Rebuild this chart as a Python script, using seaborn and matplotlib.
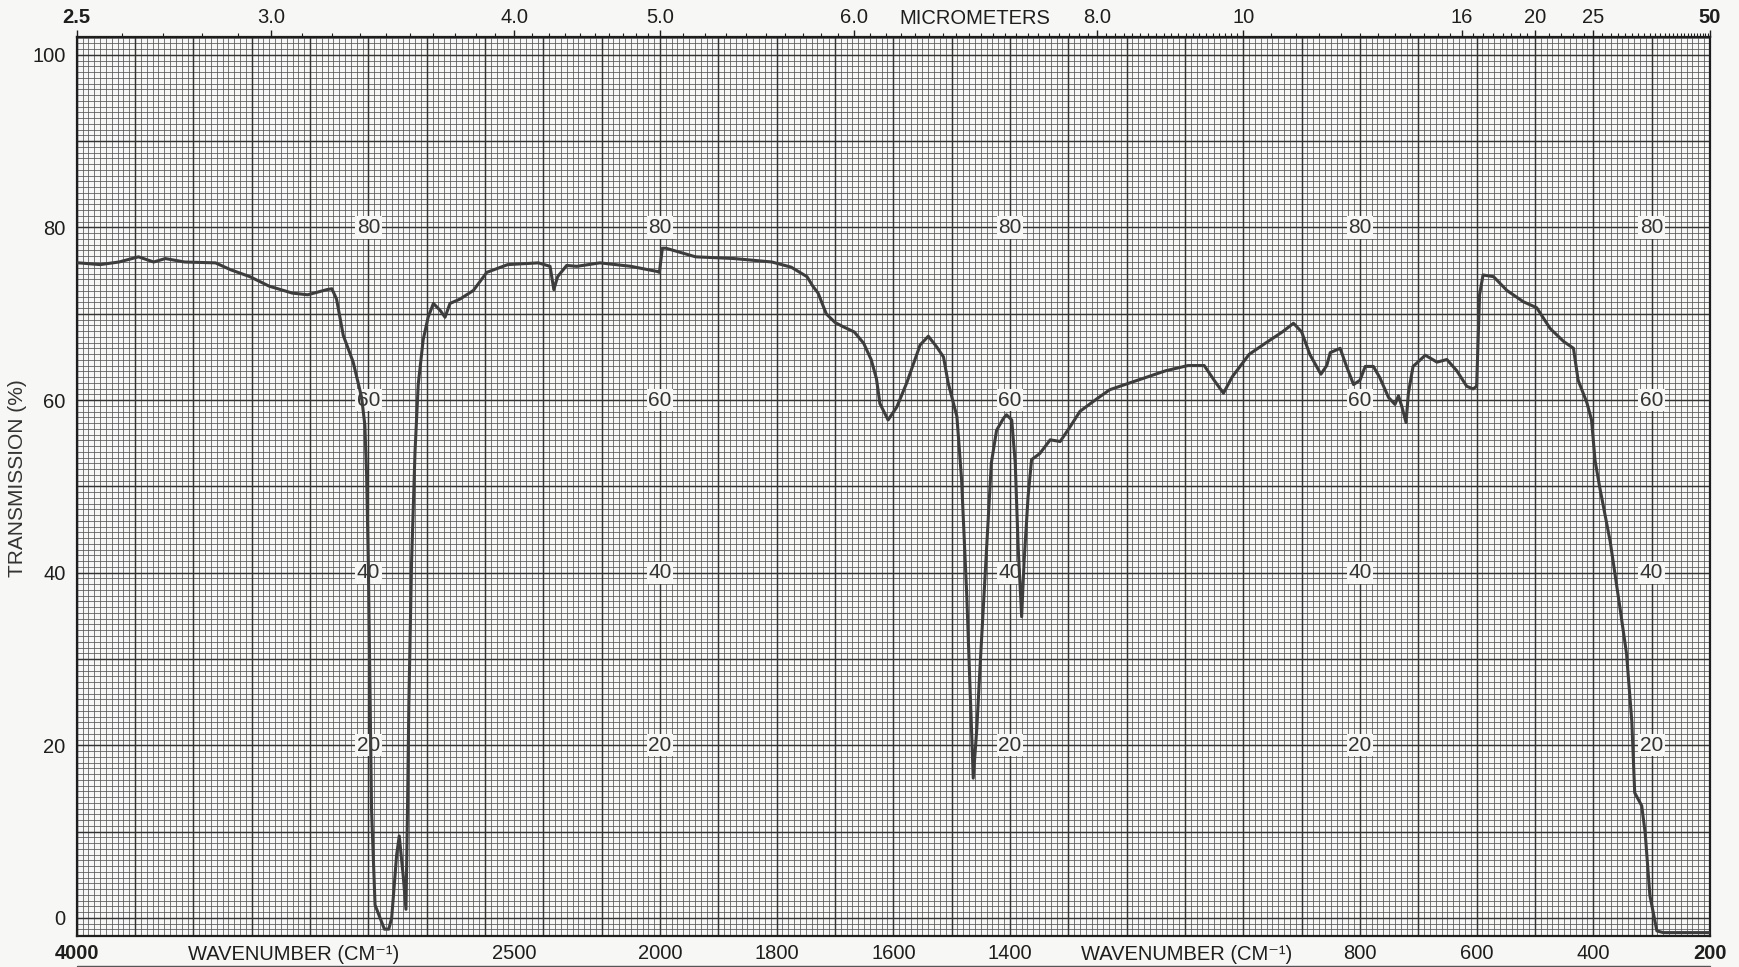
import numpy as np
import pandas as pd
import matplotlib
matplotlib.use("Agg")
import matplotlib.pyplot as plt
import matplotlib.transforms as mtransforms
import seaborn as sns

# ---- spectrum (wavenumber in cm-1, transmission in %) ----
wavenumber = [
    4000, 3993, 3920, 3855, 3788, 3736, 3696, 3630, 3524, 3472, 3406, 3340,
    3261, 3208, 3142, 3125, 3109, 3086, 3052, 3023, 3012, 3006, 3000, 2994,
    2989, 2977, 2960, 2945, 2930, 2920, 2903, 2894, 2880, 2871, 2866, 2861,
    2852, 2840, 2829, 2812, 2795, 2777, 2754, 2737, 2720, 2686, 2640, 2594,
    2522, 2417, 2377, 2364, 2351, 2320, 2285, 2206, 2100, 2009, 2002, 1996,
    1990, 1939, 1873, 1808, 1775, 1748, 1738, 1729, 1715, 1700, 1686, 1667,
    1651, 1638, 1629, 1623, 1609, 1594, 1577, 1563, 1554, 1540, 1526, 1514,
    1506, 1491, 1483, 1474, 1466, 1463, 1457, 1451, 1443, 1432, 1423, 1411,
    1406, 1397, 1391, 1386, 1380, 1376, 1369, 1363, 1349, 1331, 1314, 1297,
    1280, 1250, 1229, 1190, 1133, 1095, 1067, 1048, 1034, 1019, 990, 962,
    933, 914, 900, 886, 867, 857, 851, 834, 823, 811, 800, 791, 777, 766,
    751, 740, 734, 728, 721, 717, 709, 688, 668, 651, 634, 617, 606, 600,
    595, 589, 571, 548, 520, 497, 474, 451, 434, 426, 411, 403, 397, 389,
    371, 354, 343, 334, 329, 317, 311, 303, 291, 280, 200,
]
transmission = [
    75.9, 75.9, 75.7, 76.0, 76.6, 76.0, 76.4, 76.0, 75.9, 75.1, 74.3, 73.2,
    72.4, 72.2, 72.8, 72.9, 71.7, 67.5, 64.4, 60.3, 57.1, 51.4, 41.0, 25.4,
    12.5, 1.5, 0.0, -1.3, -1.3, 0.0, 7.3, 9.5, 4.7, 1.0, 12.0, 25.0,
    41.0, 54.0, 61.8, 67.0, 69.6, 71.2, 70.4, 69.6, 71.2, 71.7, 72.7, 74.8,
    75.7, 75.9, 75.5, 72.8, 74.3, 75.6, 75.5, 75.9, 75.5, 74.9, 74.8, 77.6,
    77.6, 76.6, 76.4, 76.0, 75.4, 74.3, 73.2, 72.4, 70.0, 69.0, 68.5, 67.9,
    66.6, 64.7, 62.5, 59.6, 57.7, 59.2, 62.0, 64.7, 66.4, 67.4, 66.2, 65.0,
    62.0, 58.1, 50.8, 37.2, 21.8, 16.2, 21.8, 29.5, 39.2, 52.7, 56.5, 57.9,
    58.3, 57.7, 52.7, 43.0, 34.9, 41.1, 48.8, 53.1, 53.8, 55.4, 55.2, 56.9,
    58.7, 60.2, 61.2, 62.1, 63.4, 64.0, 64.0, 62.1, 60.8, 62.7, 65.3, 66.6,
    67.9, 68.9, 67.9, 65.3, 63.0, 64.0, 65.5, 66.0, 63.9, 61.8, 62.3, 63.9, 63.9, 62.6,
    60.3, 59.5, 60.5, 59.2, 57.4, 60.8, 63.9, 65.2, 64.4, 64.7, 63.4, 61.6, 61.3, 61.6,
    72.2, 74.5, 74.3, 72.7, 71.4, 70.7, 68.3, 66.8, 66.0, 62.3, 59.7, 57.7, 53.0, 49.9,
    43.6, 35.8, 30.6, 22.8, 14.5, 13.0, 9.8, 2.6, -1.5, -1.7, -1.7,
]

# ---- axis annotations ----
bottom_ticks = [4000, 2500, 2000, 1800, 1600, 1400, 800, 600, 400, 200]
top_ticks_um = [2.5, 3.0, 4.0, 5.0, 6.0, 8.0, 10, 16, 20, 25, 50]
top_tick_labels = ["2.5", "3.0", "4.0", "5.0", "6.0", "8.0", "10", "16", "20", "25", "50"]
y_ticks = [0, 20, 40, 60, 80, 100]
inner_label_x = [3000, 2000, 1400, 800, 300]
inner_label_y = [20, 40, 60, 80]
wavenumber_title_x = [3255, 1097]
micrometers_title_x = 1460

PAPER = "#f7f7f5"
INK = "#1e1e1e"
TRACE = "#3d3d3d"
LABEL_SIZE = 14.5


# Chart paper: 4000-2000 cm-1 at half the scale of 2000-200 cm-1
def fwd(w):
    w = np.asarray(w, dtype=float)
    return np.where(w > 2000, 2000 + (w - 2000) * 0.5, w)


def inv(u):
    u = np.asarray(u, dtype=float)
    return np.where(u > 2000, 2000 + (u - 2000) * 2.0, u)


sns.set_theme(style="white")
plt.rcParams["font.family"] = ["Liberation Sans", "DejaVu Sans"]

fig = plt.figure(figsize=(17.39, 9.67), dpi=100, facecolor=PAPER)
ax = fig.add_axes([0.0441, 0.032, 0.9392, 0.930])
ax.set_facecolor(PAPER)

df = pd.DataFrame({"wavenumber": wavenumber, "transmission": transmission})
sns.lineplot(data=df, x="wavenumber", y="transmission", ax=ax, sort=False,
             estimator=None, color=TRACE, linewidth=2.2, zorder=4)

ax.set_xscale("function", functions=(fwd, inv))
ax.set_xlim(4000, 200)
ax.set_ylim(-2.1, 102.1)

# ---- graph-paper grid ----
fine_x = np.concatenate([np.arange(4000, 2000, -20), np.arange(2000, 199, -10)])
heavy_x = np.concatenate([np.arange(4000, 2000, -200), np.arange(2000, 199, -100)])
fine_y = np.arange(-3, 154) * (2.0 / 3.0)
heavy_y = np.arange(0, 101, 10)
ax.vlines(fine_x, -2.1, 102.1, colors="#555555", linewidth=0.55, zorder=1)
ax.hlines(fine_y, 4000, 200, colors="#555555", linewidth=0.55, zorder=1)
ax.vlines(heavy_x, -2.1, 102.1, colors="#333333", linewidth=1.05, zorder=1.5)
ax.hlines(heavy_y, 4000, 200, colors="#333333", linewidth=1.05, zorder=1.5)

# in-field percentage labels
for xv in inner_label_x:
    for yv in inner_label_y:
        ax.text(xv, yv, str(yv), ha="center", va="center", fontsize=15,
                color="#333333", zorder=3,
                bbox=dict(facecolor=PAPER, edgecolor="none", pad=1.2))

# ---- bottom axis: wavenumber ----
ax.set_xticks(bottom_ticks)
ax.set_xticklabels([str(t) for t in bottom_ticks])
ax.xaxis.set_minor_locator(matplotlib.ticker.NullLocator())
ax.tick_params(axis="x", which="both", length=0, pad=6, labelsize=LABEL_SIZE,
               labelcolor=INK)
for lab in ax.get_xticklabels():
    if lab.get_text() in ("4000", "200"):
        lab.set_fontweight("bold")

ax.set_yticks(y_ticks)
ax.set_yticklabels([str(t) for t in y_ticks])
ax.tick_params(axis="y", length=0, pad=8, labelsize=LABEL_SIZE, labelcolor=INK)
ax.set_xlabel("")
ax.set_ylabel("")

blend_b = mtransforms.blended_transform_factory(ax.transData, ax.transAxes)
for xv in wavenumber_title_x:
    ax.text(xv, -0.021, "WAVENUMBER (CM\u207b\u00b9)", transform=blend_b,
            ha="center", va="center", fontsize=LABEL_SIZE, color=INK, clip_on=False)
ax.plot([0, 1], [-0.033, -0.033], transform=ax.transAxes, clip_on=False,
        color="#555555", linewidth=1.0)

ax.text(-0.036, 51, "TRANSMISSION (%)", rotation=90, ha="center", va="center",
        fontsize=15, color="#333333",
        transform=mtransforms.blended_transform_factory(ax.transAxes, ax.transData))

for side in ("left", "right", "top", "bottom"):
    ax.spines[side].set_visible(True)
    ax.spines[side].set_color(INK)
    ax.spines[side].set_linewidth(1.6)

# ---- top axis: micrometers ----
ax_top = ax.twiny()
ax_top.set_xscale("function", functions=(fwd, inv))
ax_top.set_xlim(4000, 200)
ax_top.set_xticks([1e4 / u for u in top_ticks_um])
ax_top.set_xticklabels(top_tick_labels)
minor_um = np.concatenate([np.arange(25, 100) / 10.0,
                           np.arange(20, 40) / 2.0,
                           np.arange(21, 50)])
ax_top.set_xticks([1e4 / u for u in minor_um], minor=True)
ax_top.tick_params(axis="x", which="major", length=5, width=1.0, direction="out",
                   pad=2, labelsize=LABEL_SIZE, labelcolor=INK, color=INK)
ax_top.tick_params(axis="x", which="minor", length=3, width=0.8, direction="out",
                   color=INK)
for lab in ax_top.get_xticklabels():
    if lab.get_text() in ("2.5", "50"):
        lab.set_fontweight("bold")
for side in ax_top.spines.values():
    side.set_visible(False)
ax_top.grid(False)

blend_t = mtransforms.blended_transform_factory(ax.transData, ax.transAxes)
ax.text(micrometers_title_x, 1.0205, "MICROMETERS", transform=blend_t,
        ha="center", va="center", fontsize=LABEL_SIZE, color=INK, clip_on=False)

fig.savefig("out.png", dpi=100, facecolor=PAPER)
